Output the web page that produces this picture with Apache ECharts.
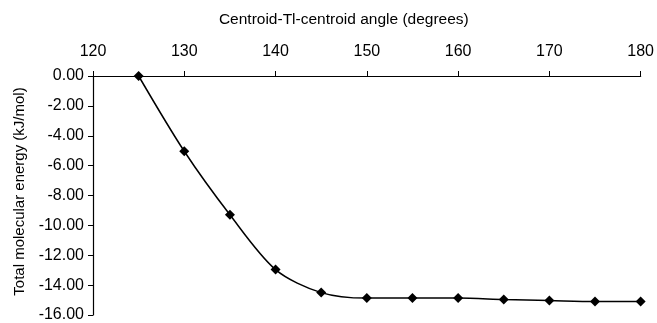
<!DOCTYPE html>
<html><head><meta charset="utf-8">
<script src="https://cdn.jsdelivr.net/npm/echarts@6/dist/echarts.min.js"></script>
<style>html,body{margin:0;padding:0;background:#fff}#c{width:657px;height:323px}</style>
</head><body><div id="c"></div>
<script>
const angles = [125,130,135,140,145,150,155,160,165,170,175,180];
const energies = [0.00,-5.04,-9.29,-12.96,-14.50,-14.87,-14.87,-14.87,-14.96,-15.03,-15.10,-15.10];
const xTitle = 'Centroid-Tl-centroid angle (degrees)';
const yTitle = 'Total molecular energy (kJ/mol)';
const font = 'Liberation Sans, Arial, sans-serif';
const chart = echarts.init(document.getElementById('c'));
chart.setOption({
  animation:false,
  grid:{left:93,right:15,top:76,bottom:4.5},
  xAxis:{type:'value',position:'top',min:120,max:180,interval:10,
    name:xTitle,nameLocation:'middle',nameGap:48,
    nameTextStyle:{color:'#000',fontSize:15.5,fontFamily:font,padding:[0,46,0,0]},
    axisLine:{onZero:false,lineStyle:{color:'#000',width:1.2}},
    axisTick:{inside:false,length:5,lineStyle:{color:'#000'}},
    axisLabel:{color:'#000',fontSize:16,fontFamily:font,margin:16},
    splitLine:{show:false}},
  yAxis:{type:'value',min:-16,max:0,interval:2,
    name:yTitle,nameLocation:'middle',nameRotate:90,nameGap:64,
    nameTextStyle:{color:'#000',fontSize:15,fontFamily:font,padding:[0,0,0,8]},
    axisLine:{show:true,lineStyle:{color:'#000',width:1.2}},
    axisTick:{show:true,length:5,lineStyle:{color:'#000'}},
    axisLabel:{color:'#000',fontSize:16,fontFamily:font,margin:9,formatter:v=>v.toFixed(2)},
    splitLine:{show:false}},
  series:[{type:'line',data:angles.map((a,i)=>[a,energies[i]]),smooth:0.3,
    symbol:'diamond',symbolSize:10,
    lineStyle:{color:'#000',width:1.5},itemStyle:{color:'#000'}}]
});
</script></body></html>
